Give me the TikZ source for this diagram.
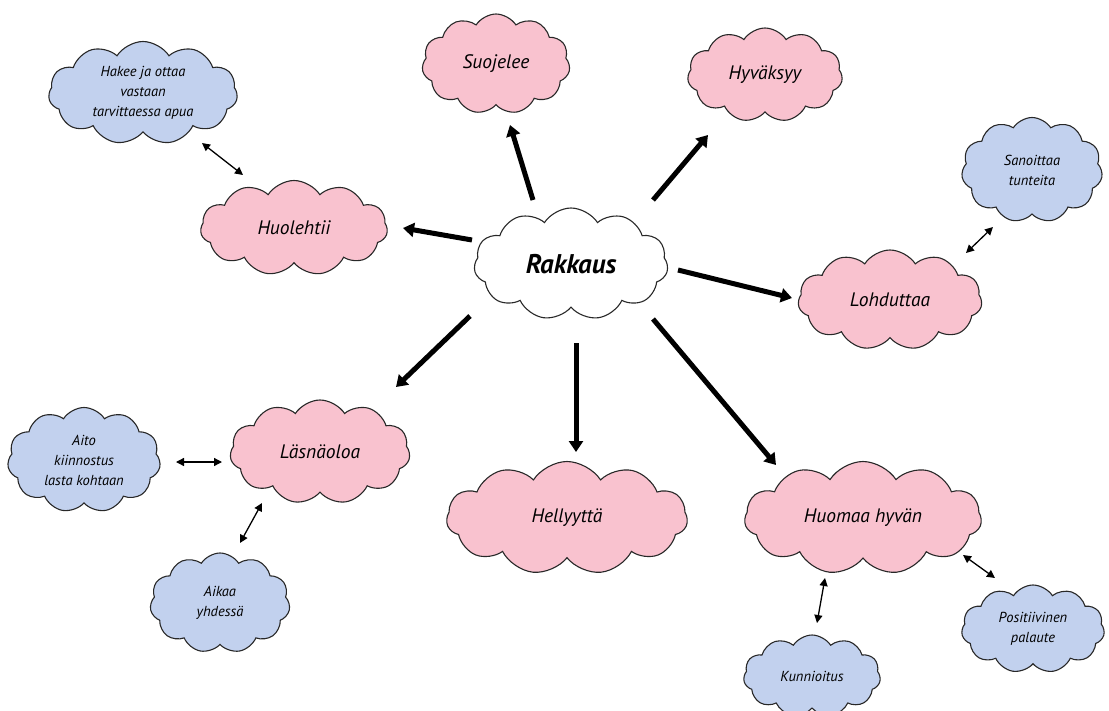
\documentclass[tikz,border=0pt]{standalone}
\usepackage{fontspec}
\setmainfont{PT Sans}
\usetikzlibrary{shapes.symbols,arrows.meta,calc}
\definecolor{pinkfill}{RGB}{249,194,207}
\definecolor{bluefill}{RGB}{194,209,238}
\definecolor{edge}{RGB}{40,40,40}
\tikzset{
  cl/.style={cloud, cloud puffs=11, cloud puff arc=115, cloud ignores aspect,
    draw=edge, line width=1.1pt, inner sep=0pt, align=center},
  pinkcl/.style={cl, fill=pinkfill, font=\fontsize{19.5}{23}\selectfont\itshape},
  bluecl/.style={cl, fill=bluefill, font=\fontsize{14.5}{20}\selectfont\itshape},
  maincl/.style={cl, fill=white, font=\fontsize{27}{32}\selectfont\bfseries\itshape},
  bigarrow/.style={line width=5pt, -{Triangle[length=11pt,width=14pt]}},
  twoway/.style={line width=1.3pt, {Triangle[length=8pt,width=8pt]}-{Triangle[length=8pt,width=8pt]}}
}
\begin{document}
\begin{tikzpicture}[x=1pt,y=-1pt]
\useasboundingbox (0,0) rectangle (1109,710);
\begin{scope}
\clip (0,0) rectangle (1109,710);
\node[maincl, minimum width=194, minimum height=112] (rak) at (571,264) {Rakkaus};
\node[pinkcl, minimum width=148, minimum height=100] (suo) at (496,64) {Suojelee};
\node[pinkcl, minimum width=155, minimum height=94] (hyv) at (765,75) {Hyväksyy};
\node[pinkcl, minimum width=187, minimum height=95] (huo) at (294,228) {Huolehtii};
\node[pinkcl, minimum width=184, minimum height=100] (loh) at (890,300) {Lohduttaa};
\node[pinkcl, minimum width=180, minimum height=104] (las) at (320,452) {Läsnäoloa};
\node[pinkcl, minimum width=241, minimum height=113] (hel) at (567,518) {Hellyyttä};
\node[pinkcl, minimum width=237, minimum height=113] (huom) at (863,518) {Huomaa hyvän};
\node[bluecl, minimum width=189, minimum height=103] (hak) at (143,93) {Hakee ja ottaa\\vastaan\\tarvittaessa apua};
\node[bluecl, minimum width=141, minimum height=105] (san) at (1032,170) {Sanoittaa\\tunteita};
\node[bluecl, minimum width=153, minimum height=105] (aito) at (84,460) {Aito\\kiinnostus\\lasta kohtaan};
\node[bluecl, minimum width=140, minimum height=100] (aik) at (220,603) {Aikaa\\yhdessä};
\node[bluecl, minimum width=137, minimum height=82] (kun) at (812,676) {Kunnioitus};
\node[bluecl, minimum width=143, minimum height=88] (pos) at (1033,629) {Positiivinen\\palaute};
\end{scope}
% thick arrows
\draw[bigarrow] ($(rak)+(-38,-64)$) -- ($(suo)+(14,61)$);
\draw[bigarrow] ($(rak)+(82,-64)$) -- ($(hyv)+(-57,60)$);
\draw[bigarrow] ($(rak)+(-99,-24)$) -- ($(huo)+(109,0)$);
\draw[bigarrow] ($(rak)+(107,6)$) -- ($(loh)+(-98,-2)$);
\draw[bigarrow] ($(rak)+(-101,52)$) -- ($(las)+(76,-65)$);
\draw[bigarrow] ($(rak)+(5,79)$) -- ($(hel)+(9,-66)$);
\draw[bigarrow] ($(rak)+(82,55)$) -- ($(huom)+(-87,-53)$);
% two-way arrows
\draw[twoway] ($(hak)+(59,50)$) -- ($(huo)+(-51,-53)$);
\draw[twoway] ($(san)+(-39,57)$) -- ($(loh)+(76,-47)$);
\draw[twoway] ($(aito)+(92,2)$) -- ($(las)+(-98,10)$);
\draw[twoway] ($(las)+(-58,51)$) -- ($(aik)+(20,-60)$);
\draw[twoway] ($(huom)+(-38,60)$) -- ($(kun)+(5,-53)$);
\draw[twoway] ($(huom)+(100,37)$) -- ($(pos)+(-38,-51)$);
\end{tikzpicture}
\end{document}
